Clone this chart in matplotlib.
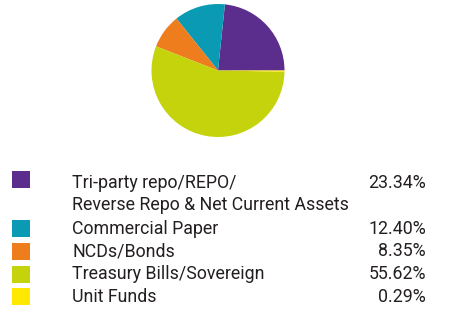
import matplotlib
matplotlib.use('Agg')
import matplotlib.pyplot as plt
from matplotlib.patches import Rectangle

# Portfolio allocation data
labels = ['Tri-party repo/REPO/\nReverse Repo & Net Current Assets', 'Commercial Paper',
          'NCDs/Bonds', 'Treasury Bills/Sovereign', 'Unit Funds']
values = [23.34, 12.40, 8.35, 55.62, 0.29]
value_text = ['23.34%', '12.40%', '8.35%', '55.62%', '0.29%']
colors = ['#5b2d8c', '#0b9ab4', '#ee7d1e', '#c4d30b', '#ffe900']

W, H = 451, 333
fig = plt.figure(figsize=(W / 100, H / 100), dpi=100)

# Pie axes, placed in pixel units
cx, cy, r = 218, 70.5, 66.5
ax = fig.add_axes([(cx - r) / W, 1 - (cy + r) / H, 2 * r / W, 2 * r / H])
ax.pie(values, colors=colors, startangle=0, counterclock=True,
       wedgeprops=dict(linewidth=0))
ax.set_xlim(-1, 1)
ax.set_ylim(-1, 1)
ax.set_aspect('equal')
ax.axis('off')

# Legend rows drawn by hand
font = 'Roboto'
fs = 12.8
tc = '#231f20'
row_y = [182.5, 228.5, 251, 274, 296.5]
for i, (lab, vt, col) in enumerate(zip(labels, value_text, colors)):
    y = row_y[i]
    sq_top = y - 11 if i == 0 else y - 8.5
    fig.add_artist(Rectangle((12 / W, 1 - (sq_top + 17) / H), 18 / W, 17 / H,
                             transform=fig.transFigure, color=col, lw=0))
    lines = lab.split('\n')
    for k, line in enumerate(lines):
        fig.text(72 / W, 1 - (y + 23 * k) / H, line, fontsize=fs, family=font,
                 color=tc, va='center')
    fig.text(426 / W, 1 - y / H, vt, fontsize=fs, family=font, color=tc,
             va='center', ha='right')

fig.savefig('out.png', dpi=100)
